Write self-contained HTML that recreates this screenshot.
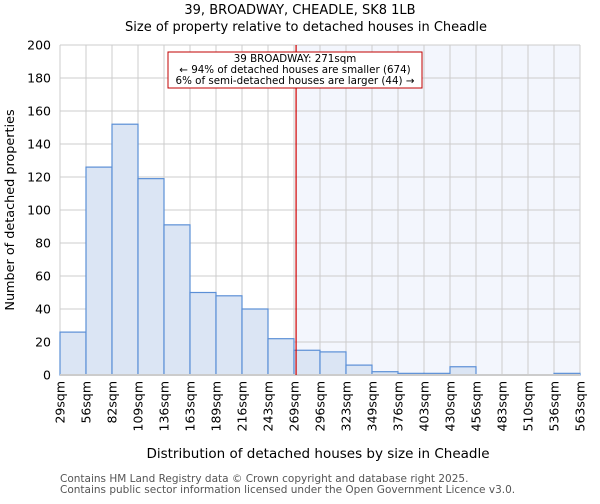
<!DOCTYPE html>
<html><head><meta charset="utf-8"><style>
body{margin:0;background:#fff;font-family:"DejaVu Sans","Liberation Sans",sans-serif}
</style></head><body>
<svg id="chart" width="600" height="500" xmlns="http://www.w3.org/2000/svg" font-family="DejaVu Sans, Liberation Sans, sans-serif">
<text x="300" y="14" text-anchor="middle" font-size="13">39, BROADWAY, CHEADLE, SK8 1LB</text>
<text x="306" y="31" text-anchor="middle" font-size="13">Size of property relative to detached houses in Cheadle</text>
<g id="plot"></g>
<text transform="translate(14,210) rotate(-90)" text-anchor="middle" font-size="12.8">Number of detached properties</text>
<text x="318" y="458" text-anchor="middle" font-size="13.5">Distribution of detached houses by size in Cheadle</text>
<text x="60" y="482" font-size="10.5" fill="#555">Contains HM Land Registry data © Crown copyright and database right 2025.</text>
<text x="60" y="493" font-size="10.5" fill="#555">Contains public sector information licensed under the Open Government Licence v3.0.</text>
</svg>
<script>
const binLabels=["29sqm","56sqm","82sqm","109sqm","136sqm","163sqm","189sqm","216sqm","243sqm","269sqm","296sqm","323sqm","349sqm","376sqm","403sqm","430sqm","456sqm","483sqm","510sqm","536sqm","563sqm"];
const counts=[26,126,152,119,91,50,48,40,22,15,14,6,2,1,1,5,0,0,0,1];
const yTicks=[0,20,40,60,80,100,120,140,160,180,200];
const propertyBin=9.08;
const NS="http://www.w3.org/2000/svg";
const L=60,R=580,T=45,B=375,yMax=200;
const bw=(R-L)/counts.length;
const x=i=>L+i*bw;
const y=v=>B-(v/yMax)*(B-T);
const g=document.getElementById('plot');
function mk(t,a){const e=document.createElementNS(NS,t);for(const k in a)e.setAttribute(k,a[k]);g.appendChild(e);return e;}
const px=x(propertyBin);
let e=mk('rect',{x:px,y:T,width:R-px,height:B-T,fill:'#f3f6fd'});


yTicks.forEach(v=>{
 let l=mk('line',{x1:L,x2:R,y1:y(v),y2:y(v),stroke:'#cccccc'});
 
 
 let t=mk('text',{x:L-9,y:y(v)+4.5,'text-anchor':'end','font-size':'12.5'});
 t.textContent=v;
 
 
});
binLabels.forEach((s,i)=>{
 let l=mk('line',{x1:x(i),x2:x(i),y1:T,y2:B,stroke:'#cccccc'});
 
 
 let t=mk('text',{transform:`translate(${x(i)+4.5},381) rotate(-90)`,'text-anchor':'end','font-size':'12.5'});
 t.textContent=s;
 
 
});
counts.forEach((v,i)=>{
 if(v<=0)return;
 let r=mk('rect',{x:x(i),y:y(v),width:bw,height:B-y(v),fill:'#dbe5f4',stroke:'#5b8fd6','stroke-width':1.2});
 
 
});
let ax=mk('line',{x1:L,x2:R,y1:B,y2:B,stroke:'#cccccc','stroke-width':2});


let rl=mk('line',{x1:px,x2:px,y1:T,y2:B,stroke:'#d00000','stroke-width':1.2});


let box=mk('rect',{x:168,y:52,width:254,height:36,fill:'#fff',stroke:'#c00000','stroke-width':1});


["39 BROADWAY: 271sqm","← 94% of detached houses are smaller (674)","6% of semi-detached houses are larger (44) →"].forEach((s,i)=>{
 let t=mk('text',{x:295,y:62+i*11,'text-anchor':'middle','font-size':'10.3'});
 t.textContent=s;
 
 
});
</script>
</body></html>
